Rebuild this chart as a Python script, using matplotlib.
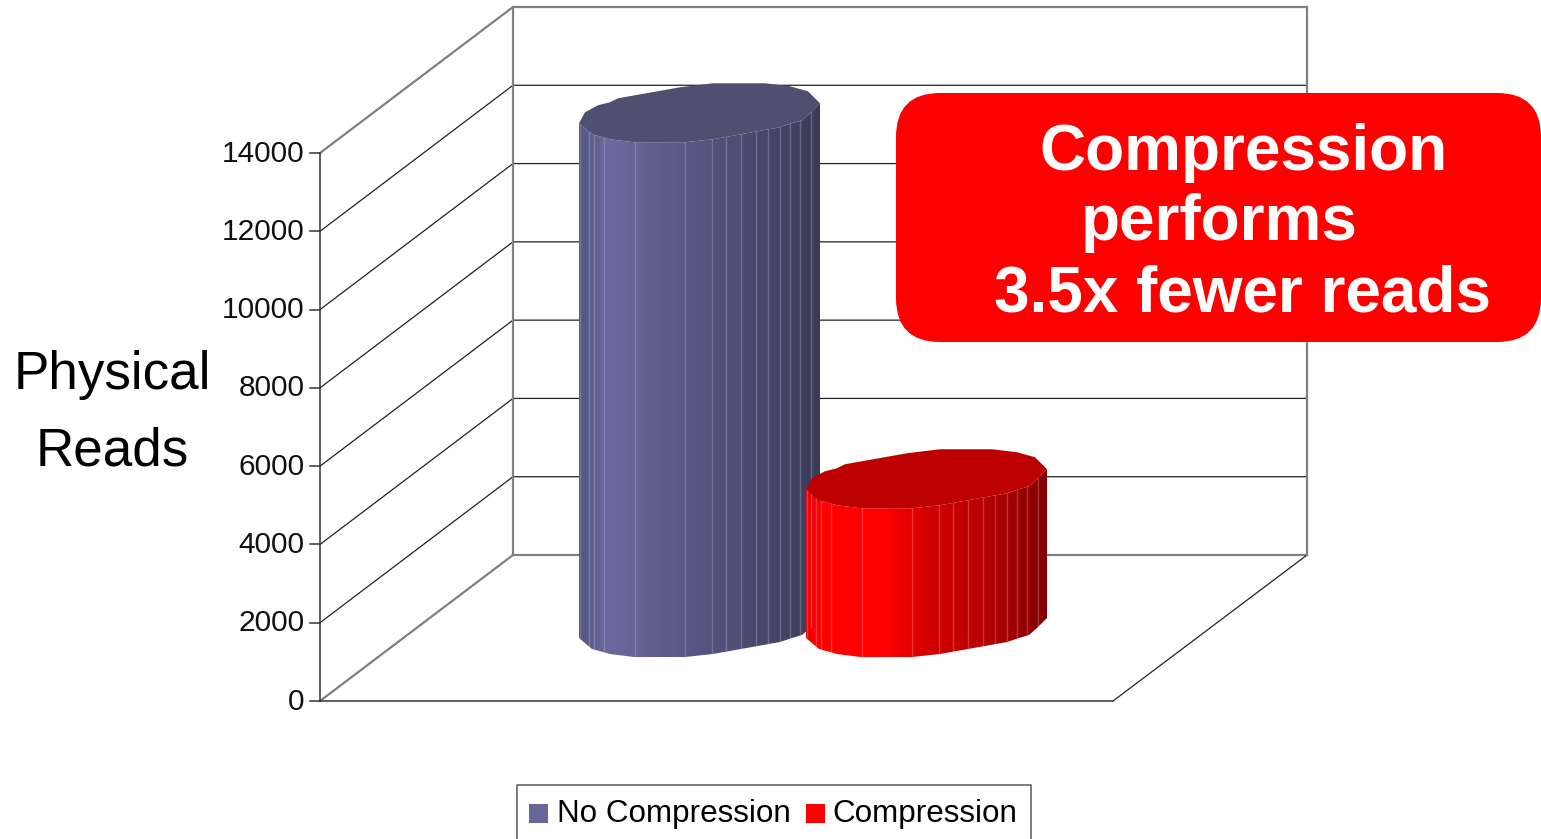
import numpy as np
import matplotlib
matplotlib.use('Agg')
import matplotlib.pyplot as plt
from matplotlib.colors import LinearSegmentedColormap
from matplotlib.patches import FancyBboxPatch, Polygon, Rectangle

series = ['No Compression', 'Compression']
reads = [13150, 3800]
ticks = [0, 2000, 4000, 6000, 8000, 10000, 12000, 14000]
callout = ['Compression', 'performs', '3.5x fewer reads']

plt.rcParams['font.family'] = ['Liberation Sans', 'DejaVu Sans']

# the old office chart is a fake 3d box, so everything is placed in pixels
fig = plt.figure(figsize=(15.41, 8.39), dpi=100)
ax = fig.add_axes([0, 0, 1, 1])
ax.set_xlim(0, 1541)
ax.set_ylim(839, 0)
ax.axis('off')

px_per_unit = 548 / 14000

def front_y(v):
    return 701 - v * px_per_unit

def back_y(v):
    return 555 - v * px_per_unit

# walls
for v in ticks[1:]:
    c = '#808080' if v == 14000 else '#222222'
    lw = 1.6 if v == 14000 else 0.9
    ax.plot([320, 513, 1307], [front_y(v), back_y(v), back_y(v)], c=c, lw=lw)
ax.plot([320, 513, 1307], [701, 555, 555], c='#808080', lw=1.6)
ax.plot([1307, 1113], [555, 701], c='#222222', lw=0.9)
ax.plot([513, 513], [back_y(0), back_y(14000)], c='#808080', lw=1.6)
ax.plot([1307, 1307], [back_y(0), back_y(14000)], c='#808080', lw=1.6)
ax.plot([320, 1113], [701, 701], c='#333333', lw=1.1)
ax.plot([320, 320], [front_y(0), front_y(14000)], c='#333333', lw=1.1)
for v in ticks:
    ax.plot([310, 320], [front_y(v), front_y(v)], c='#333333', lw=1.1)
    ax.text(304.5, front_y(v) + 0.5, str(v), ha='right', va='center', fontsize=21.5, color='#111111')

ax.text(112, 375, 'Physical', ha='center', va='center', fontsize=38.2)
ax.text(112, 452, 'Reads', ha='center', va='center', fontsize=38.2)

# outline of the cylinder cap, relative to its left corner
top_x = np.array([0, 6, 19, 31, 39, 101, 134, 186, 211, 229, 241])
top_y = np.array([0, -11, -18, -21, -25, -36, -40, -40, -37, -32, -20])
low_x = np.array([0, 13, 31, 55, 106, 134, 201, 213, 223, 231, 241])
low_y = np.array([0, 11, 16, 19, 19, 16, 4, 0, -3, -10, -20])
facets = [1, 10, 15, 25, 56, 106, 133, 147, 162, 177, 189, 201, 211, 221, 232]

def cylinder(x0, base, value, stops, cap, line):
    h = value * px_per_unit
    xs = np.linspace(0, 241, 242)
    lo = np.interp(xs, low_x, low_y)
    body_x = np.r_[xs, xs[::-1]] + x0
    body_y = np.r_[lo + base, (lo - h + base)[::-1]]
    cmap = LinearSegmentedColormap.from_list('c', stops)
    im = ax.imshow(np.linspace(0, 1, 242).reshape(1, -1), cmap=cmap, aspect='auto',
                   extent=[x0, x0 + 241, base + 30, base - h - 40], zorder=3)
    im.set_clip_path(Polygon(np.c_[body_x, body_y], transform=ax.transData))
    for f in facets:
        ax.plot([x0 + f, x0 + f], [base + lo[f] - h, base + lo[f]], c=line, lw=1, alpha=0.3, zorder=3.1)
    cap_x = np.r_[top_x, low_x[::-1]] + x0
    cap_y = np.r_[top_y, low_y[::-1]] + base - h
    ax.add_patch(Polygon(np.c_[cap_x, cap_y], closed=True, fc=cap, ec='none', zorder=3.2))

blue_stops = [(0, '#55557f'), (0.12, '#6a6a9f'), (0.3, '#60608f'), (0.6, '#50507a'), (1, '#3b3b58')]
red_stops = [(0, '#e80000'), (0.06, '#ff0000'), (0.33, '#ff0000'), (0.5, '#d40000'), (0.75, '#b40000'), (1, '#820000')]

cylinder(579, 638, reads[0], blue_stops, '#4f4f72', '#c8c8e0')
cylinder(806, 638, reads[1], red_stops, '#bc0000', '#ffb0b0')

ax.set_xlim(0, 1541)
ax.set_ylim(839, 0)

# callout
ax.add_patch(FancyBboxPatch((896, 93), 645, 249, boxstyle='round,pad=0,rounding_size=44',
                            fc='#ff0000', ec='none', zorder=4))
for s, x, y in zip(callout, [1039, 1081, 994], [153, 223, 294]):
    ax.text(x, y, s, ha='left', va='center', fontsize=46, fontweight='bold', color='white', zorder=5)

# legend box runs off the bottom of the picture
ax.plot([517, 517, 1031, 1031], [839, 785, 785, 839], c='#666666', lw=1.2)
ax.add_patch(Rectangle((529, 804), 19, 19, fc='#666699', ec='none'))
ax.add_patch(Rectangle((806, 804), 19, 19, fc='#ff0000', ec='none'))
ax.text(557, 814, series[0], ha='left', va='center', fontsize=22.6)
ax.text(832, 814, series[1], ha='left', va='center', fontsize=22.6)

plt.savefig('out.png', dpi=100)
